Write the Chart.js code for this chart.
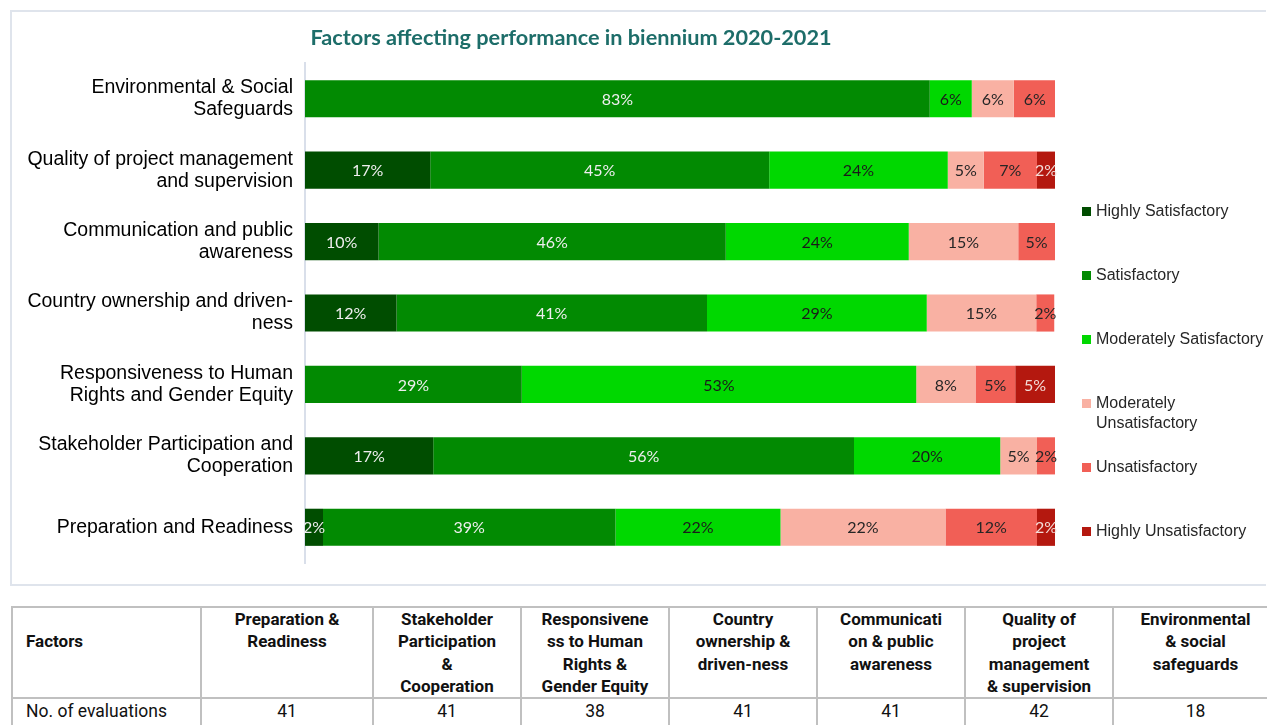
<!DOCTYPE html>
<html>
<head>
<meta charset="utf-8">
<script src="https://cdn.jsdelivr.net/npm/chart.js@4.4.1/dist/chart.umd.min.js"></script>
<style>
  html, body { margin:0; padding:0; background:#fff; width:1267px; height:725px; overflow:hidden; }
  #wrap { position:absolute; left:0; top:0; width:1267px; height:600px; }
  table { position:absolute; left:11px; top:606px; border-collapse:collapse; font-family:Roboto, sans-serif; color:#111; table-layout:fixed; width:1266px; }
  td, th { border:2px solid #c0c0c0; padding:0 3px; }
  th { font-weight:bold; font-size:17px; line-height:22.3px; vertical-align:top; text-align:center; height:89px; }
  th.first { text-align:left; padding-left:13px; padding-top:22px; height:67px; }
  td { font-size:17.5px; line-height:22px; text-align:center; padding-top:1px; padding-bottom:6px; }
  td.first { text-align:left; padding-left:13px; }
</style>
</head>
<body>
<div id="wrap"><canvas id="c" width="1267" height="600"></canvas></div>
<table id="tbl"></table>
<script>
// ---- data ----
const chartTitle = "Factors affecting performance in biennium 2020-2021";
const categories = [
  ["Environmental & Social", "Safeguards"],
  ["Quality of project management", "and supervision"],
  ["Communication and public", "awareness"],
  ["Country ownership and driven-", "ness"],
  ["Responsiveness to Human", "Rights and Gender Equity"],
  ["Stakeholder Participation and", "Cooperation"],
  ["Preparation and Readiness"]
];
const seriesNames = ["Highly Satisfactory", "Satisfactory", "Moderately Satisfactory", "Moderately Unsatisfactory", "Unsatisfactory", "Highly Unsatisfactory"];
const highlySatisfactory       = [0,    16.7,  9.8, 12.2,  0,   17.1,  2.4];
const satisfactory             = [83.3, 45.2, 46.3, 41.4, 28.9, 56.1, 39.0];
const moderatelySatisfactory   = [5.6,  23.8, 24.4, 29.3, 52.6, 19.5, 22.0];
const moderatelyUnsatisfactory = [5.6,   4.8, 14.6, 14.6,  7.9,  4.9, 22.0];
const unsatisfactory           = [5.6,   7.1,  4.9,  2.4,  5.3,  2.4, 12.2];
const highlyUnsatisfactory     = [0,     2.4,  0,    0,    5.3,  0,    2.4];

const tableHeaderFirst = "Factors";
const tableRowLabel = "No. of evaluations";
const tableFactors = [
  ["Preparation &", "Readiness"],
  ["Stakeholder", "Participation", "&", "Cooperation"],
  ["Responsivene", "ss to Human", "Rights &", "Gender Equity"],
  ["Country", "ownership &", "driven-ness"],
  ["Communicati", "on & public", "awareness"],
  ["Quality of", "project", "management", "& supervision"],
  ["Environmental", "& social", "safeguards"]
];
const evaluationCounts = [41, 41, 38, 41, 41, 42, 18];

// ---- styles ----
const colors = ["#004d00", "#028a02", "#00d800", "#f9b1a3", "#f15f56", "#b4180f"];
const labelColors = ["#eeeeee", "#eeeeee", "#1a1a1a", "#262626", "#262626", "#f3dcd8"];

// ---- table ----
(function buildTable(){
  const t = document.getElementById('tbl');
  const cg = document.createElement('colgroup');
  [189, 172, 148, 148, 148, 148, 148, 165].forEach(w => { const c = document.createElement('col'); c.style.width = w + 'px'; cg.appendChild(c); });
  t.appendChild(cg);
  const tr1 = document.createElement('tr');
  const th0 = document.createElement('th'); th0.className = 'first'; th0.textContent = tableHeaderFirst; tr1.appendChild(th0);
  tableFactors.forEach(lines => { const th = document.createElement('th'); th.innerHTML = lines.map(s => s.replace(/&/g,'&amp;')).join('<br>'); tr1.appendChild(th); });
  t.appendChild(tr1);
  const tr2 = document.createElement('tr');
  const td0 = document.createElement('td'); td0.className = 'first'; td0.textContent = tableRowLabel; tr2.appendChild(td0);
  evaluationCounts.forEach(v => { const td = document.createElement('td'); td.textContent = v; tr2.appendChild(td); });
  t.appendChild(tr2);
})();

// ---- plugins ----
const framePlugin = {
  id: 'frame',
  beforeDraw(chart) {
    const ctx = chart.ctx;
    ctx.save();
    ctx.strokeStyle = '#dfe4ec';
    ctx.lineWidth = 2;
    ctx.beginPath();
    ctx.moveTo(1266, 11); ctx.lineTo(11, 11); ctx.lineTo(11, 585); ctx.lineTo(1266, 585);
    ctx.stroke();
    ctx.fillStyle = '#1d6d69';
    ctx.font = 'bold 21.7px Lato, "Open Sans", sans-serif';
    ctx.textAlign = 'center';
    ctx.textBaseline = 'middle';
    ctx.fillText(chartTitle, 571, 38);
    ctx.restore();
  }
};

const barLabelPlugin = {
  id: 'barLabels',
  afterDatasetsDraw(chart) {
    const ctx = chart.ctx;
    ctx.save();
    ctx.font = '16px Lato, "Open Sans", sans-serif';
    ctx.textAlign = 'center';
    ctx.textBaseline = 'middle';
    chart.data.datasets.forEach((ds, di) => {
      const meta = chart.getDatasetMeta(di);
      meta.data.forEach((el, i) => {
        const v = ds.data[i];
        if (!v) return;
        ctx.fillStyle = labelColors[di];
        ctx.fillText(Math.round(v) + '%', (el.x + el.base) / 2, el.y + 1);
      });
    });
    ctx.restore();
  }
};

const legendPlugin = {
  id: 'sideLegend',
  afterDraw(chart) {
    const ctx = chart.ctx;
    ctx.save();
    ctx.font = '16px "Liberation Sans", Arial, sans-serif';
    ctx.textBaseline = 'middle';
    ctx.textAlign = 'left';
    const x0 = 1082, y0 = 212, step = 64;
    chart.data.datasets.forEach((ds, i) => {
      const y = y0 + i * step;
      ctx.fillStyle = ds.backgroundColor;
      ctx.fillRect(x0, y - 5, 9, 9);
      ctx.fillStyle = '#262626';
      const words = ds.label;
      if (ctx.measureText(words).width > 175) {
        const parts = words.split(' ');
        ctx.fillText(parts[0], x0 + 14, y);
        ctx.fillText(parts.slice(1).join(' '), x0 + 14, y + 20);
      } else {
        ctx.fillText(words, x0 + 14, y);
      }
    });
    ctx.restore();
  }
};

const seriesData = [highlySatisfactory, satisfactory, moderatelySatisfactory, moderatelyUnsatisfactory, unsatisfactory, highlyUnsatisfactory];

new Chart(document.getElementById('c'), {
  type: 'bar',
  data: {
    labels: categories,
    datasets: seriesNames.map((name, i) => ({
      label: name,
      data: seriesData[i],
      backgroundColor: colors[i],
      borderWidth: 0,
      categoryPercentage: 1,
      barPercentage: 0.52
    }))
  },
  options: {
    indexAxis: 'y',
    responsive: false,
    animation: false,
    layout: { padding: { left: 0, right: 212, top: 63, bottom: 37 } },
    plugins: { legend: { display: false }, tooltip: { enabled: false }, title: { display: false } },
    scales: {
      x: { stacked: true, min: 0, max: 100, display: false },
      y: {
        stacked: true,
        grid: { display: false },
        border: { display: true, color: '#d9dfea', width: 2 },
        ticks: { color: '#000', padding: 4, font: { family: '"Liberation Sans", Arial, sans-serif', size: 19.5, lineHeight: 1.13 } },
        afterFit(scale) { scale.width = 305; }
      }
    }
  },
  plugins: [framePlugin, barLabelPlugin, legendPlugin]
});
</script>
</body>
</html>
